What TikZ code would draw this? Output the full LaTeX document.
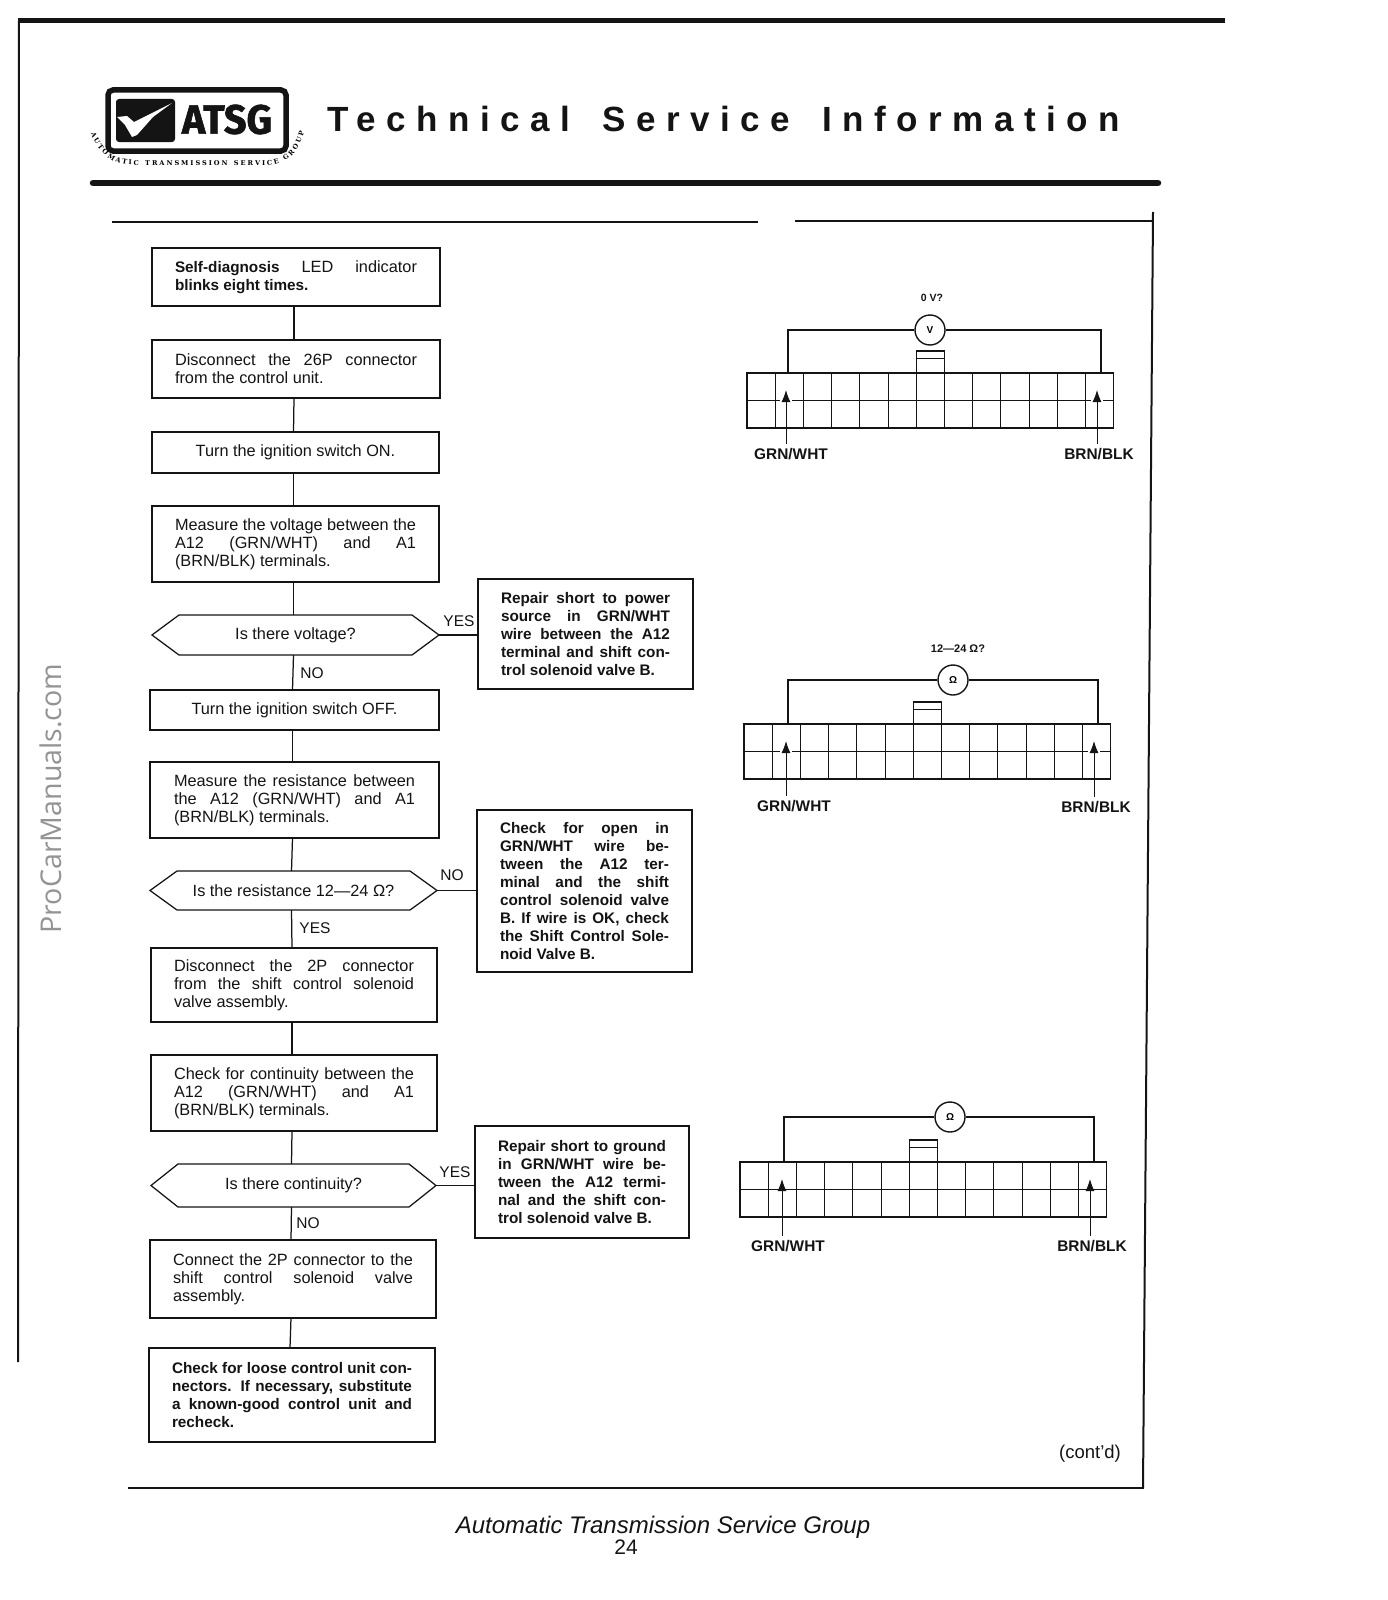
\documentclass[tikz,border=0pt]{standalone}
\usepackage{fontspec}
\usepackage{graphicx}
\usetikzlibrary{arrows.meta,decorations.text,calc}
\setmainfont{Liberation Sans}
\newfontfamily\ttlfont[LetterSpace=30,WordSpace=1.6]{Liberation Sans}
\newfontfamily\logofont[BoldFeatures={FakeBold=1.6}]{Fira Sans}
\newfontfamily\wmfont{Open Sans}
\newfontfamily\ringfont{DejaVu Serif}
\colorlet{ink}{black!92}
\newcommand{\heavytxt}{\fontsize{15.3}{17.9}\bfseries}
\tikzset{
  flowst/.style={draw=ink,line width=1.25pt,outer sep=0pt,inner ysep=0pt,font=\fontsize{16.3}{17.9}\selectfont,text=ink,
     execute at begin node={\hyphenpenalty=10000\exhyphenpenalty=10000\tolerance=9999\hbadness=10000\hfuzz=8pt}},
  hexst/.style={outer sep=0pt,inner sep=0pt,font=\fontsize{16.3}{17.9}\selectfont,text=ink},
  link/.style={draw=ink,line width=1.25pt},
  tag/.style={inner sep=0pt,font=\fontsize{15.5}{18}\selectfont,text=ink},
  wire/.style={draw=ink,line width=1.4pt},
  grid/.style={draw=ink,line width=0.85pt},
  meter/.style={circle,draw=ink,line width=1.4pt,minimum size=30pt,inner sep=0pt,font=\fontsize{10}{11}\bfseries,fill=white},
  wirelab/.style={inner sep=0pt,font=\fontsize{15.4}{17}\bfseries,text=ink},
  ptr/.style={draw=ink,line width=1pt,-{Latex[length=12pt,width=9pt]}},
  rule/.style={draw=ink,line width=2pt},
}
\newcommand{\flowbox}[7]{%
  \pgfmathsetmacro{\bxc}{(#2+#4)/2}\pgfmathsetmacro{\byc}{(#3+#5)/2}%
  \pgfmathsetmacro{\bxw}{#4-#2-2*#6}\pgfmathsetmacro{\byh}{#5-#3}%
  \node[flowst,inner xsep=#6pt,text width=\bxw pt,minimum height=\byh pt,align=justify] (#1) at (\bxc,\byc) {#7};}
\newcommand{\hexnode}[6]{%
  \pgfmathsetmacro{\bxc}{(#2+#4)/2}\pgfmathsetmacro{\byc}{(#3+#5)/2}%
  \pgfmathsetmacro{\bxw}{#4-#2}\pgfmathsetmacro{\byh}{#5-#3}%
  \node[hexst,minimum width=\bxw pt,minimum height=\byh pt] (#1) at (\bxc,\byc) {#6};
  \draw[link,line join=miter] (#1.west) -- ($(#1.north west)+(27,0)$) -- ($(#1.north east)+(-27,0)$) -- (#1.east)
     -- ($(#1.south east)+(-27,0)$) -- ($(#1.south west)+(27,0)$) -- cycle;}
% connector block: prefix, xleft, ytop, meter x, meter y, wire L, wire R, symbol, gap
\newcommand{\blockconn}[9]{%
  \pgfmathsetmacro{\bxr}{#2+13*28.2}\pgfmathsetmacro{\byb}{#3+55}\pgfmathsetmacro{\bym}{#3+27.5}%
  \pgfmathsetmacro{\tabl}{#2+6*28.2}\pgfmathsetmacro{\tabr}{#2+7*28.2}%
  \pgfmathsetmacro{\tabt}{#3-22}\pgfmathsetmacro{\tabm}{#3-15}%
  \pgfmathsetmacro{\gal}{#6-2-#9}\pgfmathsetmacro{\gar}{#6-2+#9}%
  \pgfmathsetmacro{\gbl}{#7-4-#9}\pgfmathsetmacro{\gbr}{#7-4+#9}%
  \foreach \k in {1,...,12}{\pgfmathsetmacro{\kx}{#2+\k*28.2}\draw[grid] (\kx,#3) -- (\kx,\byb);}
  \draw[grid,line width=1.2pt] (#2,#3) rectangle (\bxr,\byb);
  \draw[grid,line width=1.1pt] (#2,\bym) -- (\gal,\bym) (\gar,\bym) -- (\gbl,\bym) (\gbr,\bym) -- (\bxr,\bym);
  \draw[grid,line width=1.1pt] (\tabl,#3) -- (\tabl,\tabt) -- (\tabr,\tabt) -- (\tabr,#3);
  \draw[grid] (\tabl,\tabm) -- (\tabr,\tabm);
  \coordinate (#1wl) at (#6,#3);
  \coordinate (#1wr) at (#7,#3);
  \pgfmathsetmacro{\tipl}{#6-2}\pgfmathsetmacro{\tipr}{#7-4}\pgfmathsetmacro{\tipy}{#3+17}%
  \coordinate (#1tl) at (\tipl,\tipy);
  \coordinate (#1tr) at (\tipr,\tipy);
  \node[meter] (#1m) at (#4,#5) {#8};
  \draw[wire] (#1m.west) -| (#1wl);
  \draw[wire] (#1m.east) -| (#1wr);}
\begin{document}
\begin{tikzpicture}[x=1pt,y=-1pt]
\useasboundingbox (0,0) rectangle (1387,1600);
\fill[white] (0,0) rectangle (1387,1600);

% page frame
\draw[ink,line width=5pt] (18,21) -- (1225,21);
\draw[ink,line width=2pt] (19,21) -- (18,1362);
\draw[ink,line width=6.5pt,line cap=round] (93,183) -- (1158,183);
\draw[rule,line width=1.7pt] (112,222) -- (758,222);
\draw[rule,line width=1.7pt] (795,221) -- (1153,221);
\draw[rule] (1153,212) -- (1143,1488);
\draw[rule,line width=2.5pt] (128,1488) -- (1144,1488);

% logo
\draw[ink,line width=5.5pt,rounded corners=5pt] (108,90) rectangle (286,151);
\fill[ink,rounded corners=3pt] (116,99) rectangle (175,142);
\fill[white] (117,117) -- (127,116) -- (134,122) -- (172,103) -- (153,117) -- (137,135) -- (132,137) -- (125,125) -- cycle;
\node[inner sep=0pt,text=ink] (logotext) at (227,119.5) {\resizebox{90pt}{29pt}{\logofont\bfseries ATSG}};
\path[decorate,decoration={text along path,text align=fit to path,
   text={|\ringfont\fontsize{6.6}{8}\bfseries|AUTOMATIC TRANSMISSION SERVICE GROUP}}]
   (91,133) .. controls (97,150) and (110,165) .. (132,165) -- (266,165) .. controls (288,165) and (300,150) .. (304,132);

% title
\node[anchor=base west,inner sep=0pt,text=ink,font=\ttlfont\fontsize{35}{40}\bfseries] (title) at (327,131.5) {Technical Service Information};

% watermark
\node[rotate=90,inner sep=0pt,text=black!42,font=\wmfont\fontsize{28.6}{32}\selectfont] (wm) at (51,798.5) {ProCarManuals.com};

% flow chart left column
\flowbox{b1}{152}{248}{440}{306}{23}{{\heavytxt Self-diagnosis} LED indicator\linebreak {\heavytxt blinks eight times.}}
\flowbox{b2}{152}{340}{440}{398}{23}{Disconnect the 26P connector\linebreak from the control unit.}
\node[flowst,minimum width=287pt,minimum height=41pt] (b3) at (295.5,452.5) {Turn the ignition switch ON.};
\flowbox{b4}{152}{506}{439}{582}{23}{Measure the voltage between the\linebreak A12 (GRN/WHT) and A1\linebreak (BRN/BLK) terminals.}
\hexnode{h1}{152}{615}{439}{655}{Is there voltage?}
\node[flowst,minimum width=289pt,minimum height=40pt] (b5) at (294.5,710) {Turn the ignition switch OFF.};
\flowbox{b6}{150}{762}{439}{838}{24}{Measure the resistance between\linebreak the A12 (GRN/WHT) and A1\linebreak (BRN/BLK) terminals.}
\hexnode{h2}{150}{871}{437}{910}{Is the resistance 12—24 Ω?}
\flowbox{b7}{151}{948}{437}{1022}{23}{Disconnect the 2P connector\linebreak from the shift control solenoid\linebreak valve assembly.}
\flowbox{b8}{151}{1055}{437}{1131}{23}{Check for continuity between the\linebreak A12 (GRN/WHT) and A1\linebreak (BRN/BLK) terminals.}
\hexnode{h3}{151}{1164}{436}{1207}{Is there continuity?}
\flowbox{b9}{150}{1240}{436}{1318}{23}{Connect the 2P connector to the\linebreak shift control solenoid valve\linebreak assembly.}
\flowbox{b10}{149}{1348}{435}{1442}{23}{\heavytxt Check for loose control unit con-\linebreak nectors. If necessary, substitute\linebreak a known-good control unit and\linebreak recheck.}

% result boxes
\flowbox{r1}{478}{579}{693}{689}{23}{\heavytxt Repair short to power\linebreak source in GRN/WHT\linebreak wire between the A12\linebreak terminal and shift con-\linebreak trol solenoid valve B.}
\flowbox{r2}{477}{810}{692}{972}{23}{\heavytxt Check for open in\linebreak GRN/WHT wire be-\linebreak tween the A12 ter-\linebreak minal and the shift\linebreak control solenoid valve\linebreak B. If wire is OK, check\linebreak the Shift Control Sole-\linebreak noid Valve B.}
\flowbox{r3}{475}{1126}{689}{1238}{23}{\heavytxt Repair short to ground\linebreak in GRN/WHT wire be-\linebreak tween the A12 termi-\linebreak nal and the shift con-\linebreak trol solenoid valve B.}

% connectors
\foreach \a/\b in {b1/b2,b2/b3,b3/b4,b4/h1,h1/b5,b5/b6,b6/h2,h2/b7,b7/b8,b8/h3,h3/b9,b9/b10}
  \draw[link] ([xshift=-2pt]\a.south) -- ([xshift=-2pt]\b.north);
\draw[link] (h1.east) -- (r1.west |- h1.east);
\draw[link] (h2.east) -- (r2.west |- h2.east);
\draw[link] (h3.east) -- (r3.west |- h3.east);

% branch labels
\node[tag] (y1) at (459,621) {YES};
\node[tag] (n1) at (312,673) {NO};
\node[tag] (n2) at (452,875) {NO};
\node[tag] (y2) at (315,928) {YES};
\node[tag] (y3) at (455,1172) {YES};
\node[tag] (n3) at (308,1223) {NO};

% wiring diagrams
\blockconn{a}{747}{373}{930}{330}{788}{1101}{V}{6}
\node[inner sep=0pt,font=\fontsize{10.5}{12}\bfseries,text=ink] (av) at (932,298) {0 V?};
\node[wirelab] (agw) at (791,454) {GRN/WHT};
\node[wirelab] (abb) at (1099,454) {BRN/BLK};
\draw[ptr] ([yshift=4pt]agw.north -| atl) -- (atl);
\draw[ptr] ([yshift=4pt]abb.north -| atr) -- (atr);

\blockconn{c}{744}{724}{953}{680}{788}{1098}{Ω}{6}
\node[inner sep=0pt,font=\fontsize{11}{12}\bfseries,text=ink] (cv) at (958,649) {12—24 Ω?};
\node[wirelab] (cgw) at (794,806) {GRN/WHT};
\node[wirelab] (cbb) at (1096,807) {BRN/BLK};
\draw[ptr] ([yshift=4pt]cgw.north -| ctl) -- (ctl);
\draw[ptr] ([yshift=4pt]cbb.north -| ctr) -- (ctr);

\blockconn{d}{740}{1162}{950}{1117}{784}{1094}{Ω}{0}
\node[wirelab] (dgw) at (788,1246) {GRN/WHT};
\node[wirelab] (dbb) at (1092,1246) {BRN/BLK};
\draw[ptr] ([yshift=4pt]dgw.north -| dtl) -- (dtl);
\draw[ptr] ([yshift=4pt]dbb.north -| dtr) -- (dtr);

% footer
\node[inner sep=0pt,font=\fontsize{18.5}{20}\selectfont,text=ink] (cont) at (1090,1454) {(cont'd)};
\node[inner sep=0pt,font=\fontsize{24}{28}\itshape,text=ink] (foot) at (663,1527) {Automatic Transmission Service Group};
\node[inner sep=0pt,font=\fontsize{21}{24}\selectfont,text=ink] (pg) at (626,1547) {24};
\end{tikzpicture}
\end{document}
